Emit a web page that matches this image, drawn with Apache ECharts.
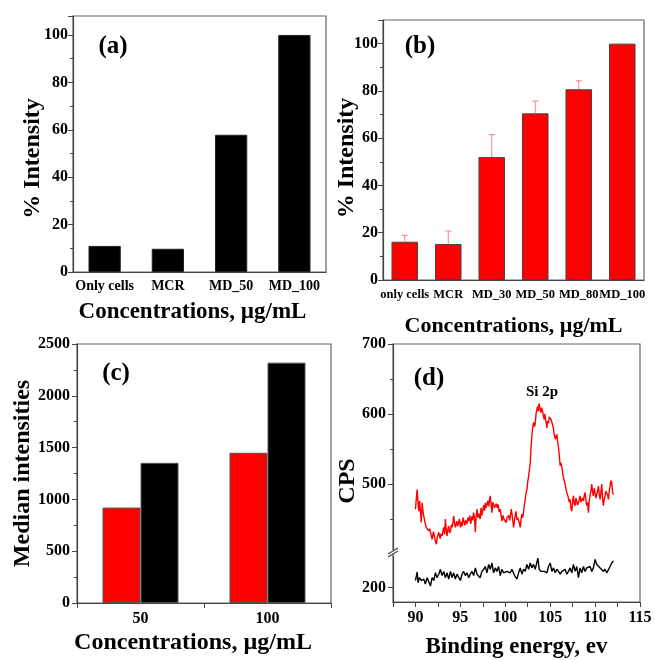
<!DOCTYPE html>
<html>
<head>
<meta charset="utf-8">
<script src="https://cdn.jsdelivr.net/npm/echarts@6/dist/echarts.min.js"></script>
<style>html,body{margin:0;padding:0;background:#fff}#c{width:655px;height:660px}</style>
</head>
<body>
<div id="c"></div>
<script>
// ---- Panel (a)
const catsA = ['Only cells', 'MCR', 'MD_50', 'MD_100'];
const valsA = [11.0, 9.8, 57.9, 100];
// ---- Panel (b)
const catsB = ['only cells', 'MCR', 'MD_30', 'MD_50', 'MD_80', 'MD_100'];
const valsB = [16.2, 15.2, 52.0, 70.5, 80.7, 100];
const errB = [2.7, 5.5, 9.5, 5.2, 3.6, 0];
// ---- Panel (c)
const catsC = ['50', '100'];
const redC = [921, 1450];
const blackC = [1353, 2320];
// ---- Panel (d) XPS spectra
const redX = [90.0,90.1,90.19,90.3,90.37,90.46,90.56,90.65,90.74,90.85,90.93,91.05,91.19,91.3,91.48,91.6,91.78,91.85,92.0,92.1,92.2,92.33,92.45,92.6,92.75,92.85,92.96,93.05,93.15,93.25,93.33,93.42,93.52,93.6,93.7,93.8,93.9,94.0,94.1,94.26,94.35,94.44,94.6,94.7,94.8,94.9,95.0,95.1,95.2,95.3,95.37,95.5,95.6,95.74,95.83,95.93,96.05,96.15,96.3,96.38,96.48,96.58,96.67,96.76,96.85,96.95,97.05,97.2,97.3,97.38,97.48,97.6,97.7,97.78,97.87,97.96,98.05,98.15,98.25,98.33,98.42,98.52,98.6,98.7,98.8,98.9,99.0,99.1,99.2,99.32,99.44,99.53,99.63,99.75,99.85,100.0,100.1,100.2,100.37,100.5,100.67,100.8,100.93,101.05,101.19,101.3,101.4,101.55,101.67,101.76,101.85,101.95,102.04,102.13,102.22,102.3,102.41,102.5,102.6,102.7,102.78,102.87,102.96,103.05,103.15,103.25,103.33,103.44,103.52,103.59,103.65,103.7,103.75,103.81,103.88,103.96,104.05,104.15,104.25,104.33,104.4,104.44,104.55,104.63,104.72,104.81,104.9,105.0,105.1,105.19,105.28,105.37,105.46,105.56,105.65,105.74,105.83,105.93,106.02,106.11,106.2,106.3,106.39,106.48,106.57,106.67,106.76,106.85,106.95,107.04,107.13,107.22,107.3,107.41,107.5,107.59,107.68,107.78,107.87,107.96,108.05,108.15,108.24,108.33,108.42,108.52,108.6,108.7,108.8,108.89,108.98,109.07,109.16,109.26,109.35,109.44,109.53,109.63,109.72,109.81,109.9,110.0,110.1,110.19,110.28,110.37,110.46,110.56,110.65,110.74,110.83,110.93,111.02,111.11,111.2,111.3,111.4,111.48,111.58,111.67,111.76,111.85,111.95,112.04];
const redY = [464,480,492,470,461,476,474,445,473,460,454,446,438,440,433,436,436,421,432,430,420,414,425,431,422,429,426,432,438,428,450,436,426,434,440,430,433,442,438,454,444,438,447,440,445,450,438,446,440,452,450,441,448,443,452,447,455,443,454,448,459,450,431,455,464,452,458,450,466,455,461,470,462,473,466,464,476,468,478,483,470,459,474,471,466,464,472,466,471,460,464,456,447,455,450,452,445,452,455,448,464,452,438,450,461,449,452,445,438,450,457,452,461,470,478,486,492,503,511,522,530,552,569,580,588,582,586,602,606,611,604,607,615,612,606,602,609,604,597,592,600,599,588,580,590,587,596,594,592,590,584,578,570,564,568,571,560,552,540,526,530,524,515,509,504,500,492,488,484,483,474,478,466,461,476,483,472,469,480,478,470,473,478,483,474,473,480,476,484,488,477,469,474,459,476,483,490,500,488,483,494,492,480,485,490,497,486,478,488,500,480,469,478,483,490,492,484,478,490,497,505,502,488,485];
const blackX = [90.0,90.19,90.3,90.44,90.67,90.93,91.1,91.3,91.48,91.67,91.85,92.04,92.22,92.4,92.6,92.78,92.96,93.15,93.33,93.52,93.7,93.9,94.07,94.26,94.44,94.63,94.8,95.0,95.19,95.37,95.56,95.74,95.93,96.1,96.3,96.48,96.67,96.85,97.04,97.2,97.4,97.6,97.78,97.96,98.15,98.33,98.52,98.7,98.9,99.07,99.26,99.44,99.63,99.81,100.0,100.19,100.37,100.56,100.74,100.9,101.04,101.3,101.48,101.67,101.85,102.04,102.22,102.41,102.6,102.78,102.96,103.15,103.33,103.63,103.78,104.0,104.15,104.37,104.63,104.81,105.0,105.19,105.37,105.56,105.74,105.93,106.11,106.3,106.48,106.67,106.85,107.04,107.22,107.41,107.59,107.78,107.96,108.15,108.33,108.52,108.7,108.89,109.07,109.26,109.44,109.63,109.81,110.0,110.19,110.37,110.56,110.74,110.93,111.11,111.3,111.48,111.67,111.85,112.04];
const blackY = [210,222,207,214,210,212,205,214,212,202,214,210,221,214,219,226,217,223,214,221,212,223,214,221,212,219,217,210,219,223,217,221,214,219,223,217,228,219,221,214,223,226,230,221,233,226,235,221,228,223,230,217,226,221,222,223,221,221,226,226,217,212,221,228,219,226,223,233,226,235,228,233,226,242,226,223,221,223,221,230,235,223,228,221,226,223,219,223,221,226,219,223,228,221,233,223,230,214,228,221,230,223,228,226,230,223,228,240,233,235,228,230,223,226,221,223,230,235,238];

const FONT = 'Liberation Serif';
const AX = '#444';
const FRAME = '#666';
const bold = (size) => ({ fontFamily: FONT, fontWeight: 'bold', fontSize: size, color: '#000' });
const plain = v => String(v);

function frameGrid(left, top, width, height) {
  return { left, top, width, height, show: true, borderColor: FRAME, borderWidth: 1.2, backgroundColor: 'transparent', containLabel: false };
}
function valueY(grid, min, max, interval, name, nameGap, padRight, margin, showMax) {
  return {
    type: 'value', gridIndex: grid, min, max, interval,
    name, nameLocation: 'middle', nameGap, nameMoveOverlap: false,
    nameTextStyle: Object.assign(bold(24), { padding: [0, padRight, 0, 0] }),
    axisLine: { show: true, lineStyle: { color: AX, width: 1.2 } },
    axisTick: { show: true, length: 5, lineStyle: { color: AX } },
    minorTick: { show: true, splitNumber: 2, length: 3, lineStyle: { color: AX } },
    axisLabel: Object.assign(bold(16), { margin: margin, showMaxLabel: showMax, formatter: plain }),
    splitLine: { show: false }, minorSplitLine: { show: false }
  };
}

const pointsRed = redX.map((x, i) => [x, redY[i]]);
const pointsBlack = blackX.map((x, i) => [x, blackY[i]]);
const errData = catsB.map((c, i) => [i, valsB[i], valsB[i] + errB[i]]);

const option = {
  animation: false,
  textStyle: { fontFamily: FONT },
  grid: [
    frameGrid(73, 16, 253, 256),     // a
    frameGrid(383, 20, 261, 260),    // b
    frameGrid(77, 344, 254, 259),    // c
    frameGrid(393, 344, 247, 261),   // d frame
    { left: 393, top: 344, width: 247, height: 210, show: false }, // d upper
    { left: 393, top: 556, width: 247, height: 49, show: false }   // d lower
  ],
  xAxis: [
    { type: 'category', gridIndex: 0, data: catsA,
      name: 'Concentrations, µg/mL', nameLocation: 'middle', nameGap: 29,
      nameTextStyle: Object.assign(bold(23), { padding: [0, 14, 0, 0] }),
      axisLine: { lineStyle: { color: AX, width: 1.2 } }, axisTick: { show: false },
      axisLabel: Object.assign(bold(14), { margin: 7, interval: 0 }) },
    { type: 'category', gridIndex: 1, data: catsB,
      name: 'Concentrations, µg/mL', nameLocation: 'middle', nameGap: 35,
      nameTextStyle: bold(22),
      axisLine: { lineStyle: { color: AX, width: 1.2 } }, axisTick: { show: false },
      axisLabel: Object.assign(bold(12.5), { margin: 8, interval: 0, hideOverlap: false }) },
    { type: 'category', gridIndex: 2, data: catsC,
      name: 'Concentrations, µg/mL', nameLocation: 'middle', nameGap: 28,
      nameTextStyle: Object.assign(bold(24), { padding: [0, 22, 0, 0] }),
      axisLine: { lineStyle: { color: AX, width: 1.2 } },
      axisTick: { show: true, length: 5, lineStyle: { color: AX } },
      axisLabel: Object.assign(bold(16), { margin: 8 }) },
    { type: 'value', gridIndex: 3, min: 87.5, max: 115, interval: 2.5,
      name: 'Binding energy, ev', nameLocation: 'middle', nameGap: 34,
      nameTextStyle: bold(23),
      axisLine: { lineStyle: { color: AX, width: 1.2 } },
      axisTick: { show: true, length: 5, lineStyle: { color: AX } },
      axisLabel: Object.assign(bold(16), { margin: 8, formatter: v => (v % 5 === 0 ? String(v) : '') }),
      splitLine: { show: false } },
    { type: 'value', gridIndex: 4, min: 87.5, max: 115, show: false },
    { type: 'value', gridIndex: 5, min: 87.5, max: 115, show: false }
  ],
  yAxis: [
    valueY(0, 0, 108, 20, '% Intensity', 28, 29, 5, false),
    valueY(1, 0, 110, 20, '% Intensity', 24, 16, 5, false),
    valueY(2, 0, 2500, 500, 'Median intensities', 42, 0, 7, true),
    { type: 'value', gridIndex: 3, min: 0, max: 1, name: 'CPS', nameLocation: 'middle', nameGap: 33,
      nameMoveOverlap: false,
      nameTextStyle: Object.assign(bold(24), { padding: [0, 16, 0, 0] }),
      axisLine: { show: false }, axisTick: { show: false }, axisLabel: { show: false }, splitLine: { show: false } },
    { type: 'value', gridIndex: 4, min: 400, max: 700, interval: 100,
      axisLine: { show: true, lineStyle: { color: AX, width: 1.2 } },
      axisTick: { show: true, length: 5, lineStyle: { color: AX }, customValues: [500, 600, 700] },
      minorTick: { show: true, splitNumber: 2, length: 3, lineStyle: { color: AX } },
      axisLabel: Object.assign(bold(16), { margin: 7, customValues: [500, 600, 700] }),
      splitLine: { show: false } },
    { type: 'value', gridIndex: 5, min: 175, max: 245, interval: 25,
      axisLine: { show: true, lineStyle: { color: AX, width: 1.2 } },
      axisTick: { show: true, length: 5, lineStyle: { color: AX }, customValues: [200] },
      axisLabel: Object.assign(bold(16), { margin: 7, customValues: [200] }),
      splitLine: { show: false } }
  ],
  series: [
    { type: 'bar', xAxisIndex: 0, yAxisIndex: 0, data: valsA, barWidth: '51%',
      itemStyle: { color: '#000', borderColor: '#222', borderWidth: 1 } },
    { type: 'bar', xAxisIndex: 1, yAxisIndex: 1, data: valsB, barWidth: '61%',
      itemStyle: { color: '#ff0000', borderColor: '#444', borderWidth: 1 } },
    { type: 'custom', xAxisIndex: 1, yAxisIndex: 1, data: errData, z: 5,
      renderItem: function (params, api) {
        if (api.value(2) <= api.value(1)) return null;
        const b = api.coord([api.value(0), api.value(1)]);
        const t = api.coord([api.value(0), api.value(2)]);
        const st = { stroke: '#ff7f7f', lineWidth: 1 };
        return { type: 'group', children: [
          { type: 'line', shape: { x1: b[0], y1: b[1], x2: t[0], y2: t[1] }, style: st },
          { type: 'line', shape: { x1: t[0] - 3, y1: t[1], x2: t[0] + 3, y2: t[1] }, style: st }
        ] };
      } },
    { type: 'bar', xAxisIndex: 2, yAxisIndex: 2, data: redC, barWidth: 38, barGap: '0%',
      itemStyle: { color: '#ff0000', borderColor: '#555', borderWidth: 1 } },
    { type: 'bar', xAxisIndex: 2, yAxisIndex: 2, data: blackC, barWidth: 38, barGap: '0%',
      itemStyle: { color: '#000', borderColor: '#555', borderWidth: 1 } },
    { type: 'line', xAxisIndex: 4, yAxisIndex: 4, data: pointsRed, showSymbol: false,
      lineStyle: { color: '#ff0000', width: 1.4 } },
    { type: 'line', xAxisIndex: 5, yAxisIndex: 5, data: pointsBlack, showSymbol: false,
      lineStyle: { color: '#000', width: 1.4 } }
  ],
  graphic: [
    { type: 'text', x: 113, y: 47, style: { text: '(a)', fill: '#000', align: 'center', verticalAlign: 'middle', font: 'bold 25px "Liberation Serif"' } },
    { type: 'text', x: 420, y: 47, style: { text: '(b)', fill: '#000', align: 'center', verticalAlign: 'middle', font: 'bold 25px "Liberation Serif"' } },
    { type: 'text', x: 116, y: 374, style: { text: '(c)', fill: '#000', align: 'center', verticalAlign: 'middle', font: 'bold 25px "Liberation Serif"' } },
    { type: 'text', x: 429, y: 379, style: { text: '(d)', fill: '#000', align: 'center', verticalAlign: 'middle', font: 'bold 25px "Liberation Serif"' } },
    { type: 'text', x: 542, y: 392, style: { text: 'Si 2p', fill: '#000', align: 'center', verticalAlign: 'middle', font: 'bold 15px "Liberation Serif"' } },
    { type: 'rect', shape: { x: 389, y: 550, width: 8, height: 4 }, style: { fill: '#fff' }, z: 100 },
    { type: 'line', shape: { x1: 388, y1: 554, x2: 398, y2: 548 }, style: { stroke: '#444', lineWidth: 1.2 }, z: 101 },
    { type: 'line', shape: { x1: 388, y1: 557, x2: 398, y2: 551 }, style: { stroke: '#444', lineWidth: 1.2 }, z: 101 }
  ]
};

const chart = echarts.init(document.getElementById('c'), null, { renderer: 'canvas' });
chart.setOption(option);
</script>
</body>
</html>
